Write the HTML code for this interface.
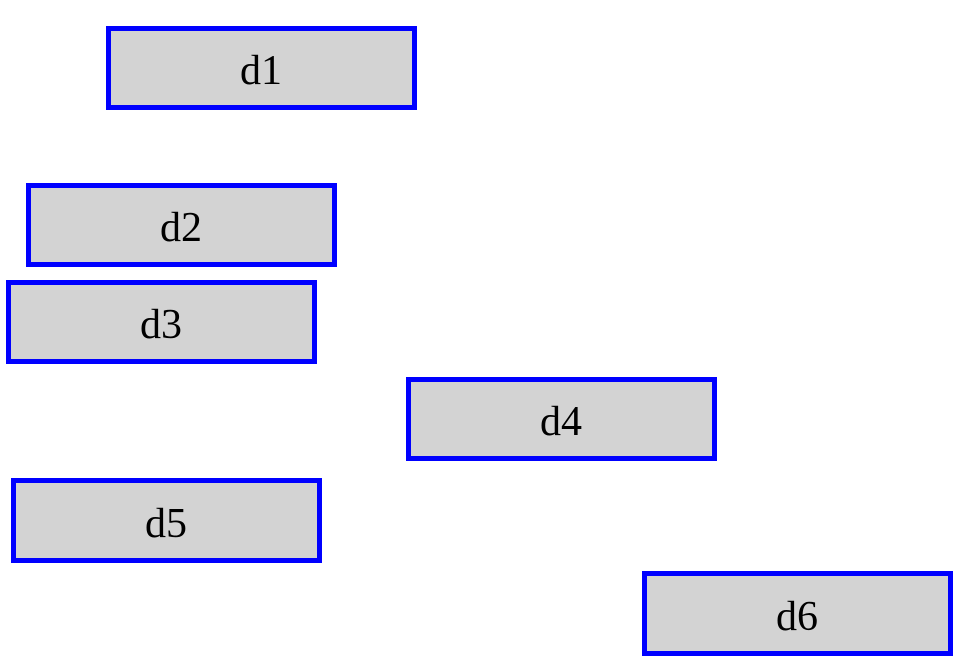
<!DOCTYPE html>
<html><head><style>body{margin:0;background:#fff}svg{display:block}</style></head>
<body>
<svg width="962" height="666" xmlns="http://www.w3.org/2000/svg" font-family="Liberation Serif, serif" font-size="42" text-anchor="middle">
<g fill="#d3d3d3" stroke="#0000ff" stroke-width="5">
<rect x="108.5" y="28.5" width="306" height="79"/>
<rect x="28.5" y="185.5" width="306" height="79"/>
<rect x="8.5" y="282.5" width="306" height="79"/>
<rect x="408.5" y="379.5" width="306" height="79"/>
<rect x="13.5" y="480.5" width="306" height="80"/>
<rect x="644.5" y="573.5" width="306" height="80"/>
</g>
<g fill="#000">
<text x="261" y="84">d1</text>
<text x="181" y="241">d2</text>
<text x="161" y="338">d3</text>
<text x="561" y="435">d4</text>
<text x="166" y="537">d5</text>
<text x="797" y="630">d6</text>
</g>
</svg>
</body></html>
